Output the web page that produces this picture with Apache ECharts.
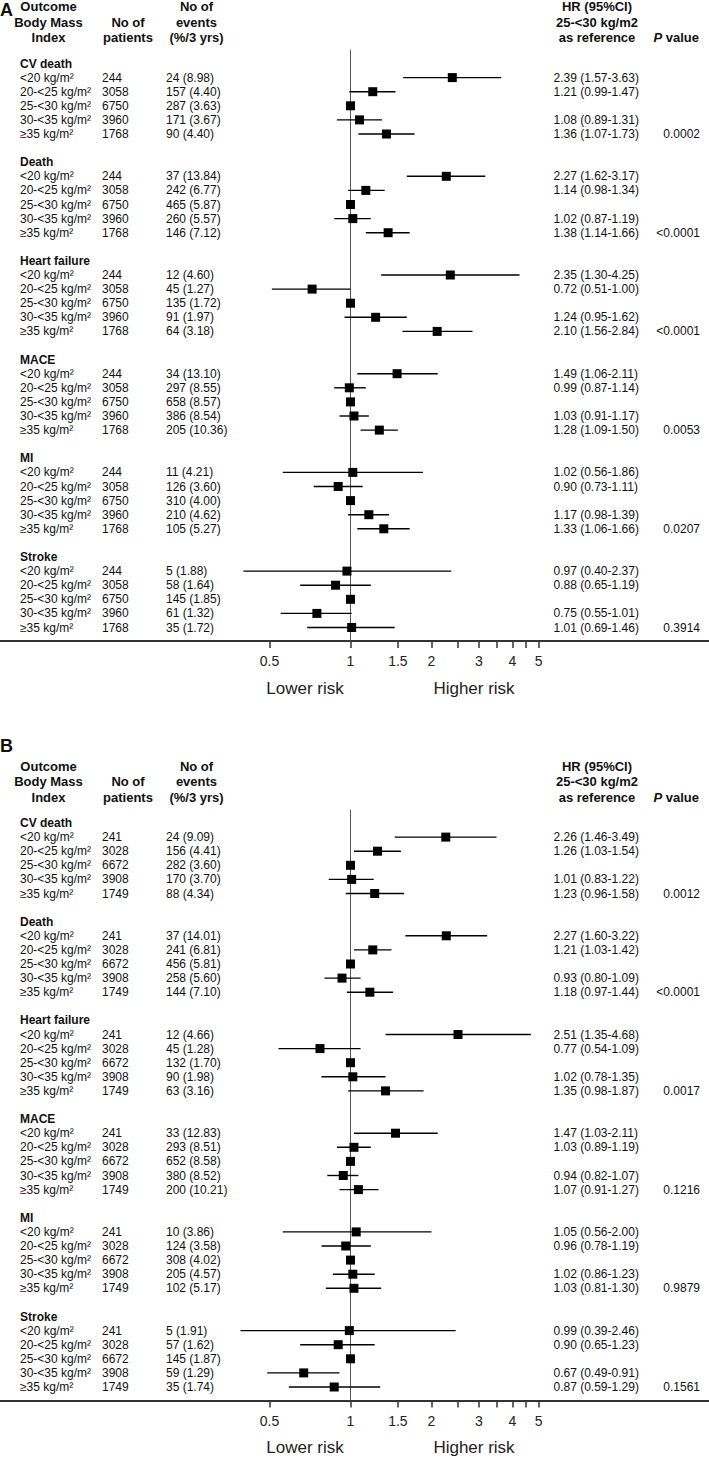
<!DOCTYPE html>
<html><head><meta charset="utf-8">
<script src="https://cdn.jsdelivr.net/npm/echarts@6/dist/echarts.min.js"></script>
<style>html,body{margin:0;padding:0;background:#fff}#c{width:709px;height:1458px}</style>
</head><body><div id="c"></div>
<script>
// ---------- DATA ----------
const outcomes = ['CV death', 'Death', 'Heart failure', 'MACE', 'MI', 'Stroke'];
const bmiCats = ['<20 kg/m²', '20-<25 kg/m²', '25-<30 kg/m²', '30-<35 kg/m²', '≥35 kg/m²'];
const axisTicks = [0.5, 1, 1.5, 2, 2.5, 3, 3.5, 4, 4.5, 5];
const axisLabels = [0.5, 1, 1.5, 2, 3, 4, 5];

// Panel A
const patientsA = [244, 3058, 6750, 3960, 1768];
const eventsA = [
  ['24 (8.98)', '157 (4.40)', '287 (3.63)', '171 (3.67)', '90 (4.40)'],
  ['37 (13.84)', '242 (6.77)', '465 (5.87)', '260 (5.57)', '146 (7.12)'],
  ['12 (4.60)', '45 (1.27)', '135 (1.72)', '91 (1.97)', '64 (3.18)'],
  ['34 (13.10)', '297 (8.55)', '658 (8.57)', '386 (8.54)', '205 (10.36)'],
  ['11 (4.21)', '126 (3.60)', '310 (4.00)', '210 (4.62)', '105 (5.27)'],
  ['5 (1.88)', '58 (1.64)', '145 (1.85)', '61 (1.32)', '35 (1.72)']
];
const hrA = [
  [2.39, 1.21, 1, 1.08, 1.36],
  [2.27, 1.14, 1, 1.02, 1.38],
  [2.35, 0.72, 1, 1.24, 2.10],
  [1.49, 0.99, 1, 1.03, 1.28],
  [1.02, 0.90, 1, 1.17, 1.33],
  [0.97, 0.88, 1, 0.75, 1.01]
];
const loA = [
  [1.57, 0.99, null, 0.89, 1.07],
  [1.62, 0.98, null, 0.87, 1.14],
  [1.30, 0.51, null, 0.95, 1.56],
  [1.06, 0.87, null, 0.91, 1.09],
  [0.56, 0.73, null, 0.98, 1.06],
  [0.40, 0.65, null, 0.55, 0.69]
];
const hiA = [
  [3.63, 1.47, null, 1.31, 1.73],
  [3.17, 1.34, null, 1.19, 1.66],
  [4.25, 1.00, null, 1.62, 2.84],
  [2.11, 1.14, null, 1.17, 1.50],
  [1.86, 1.11, null, 1.39, 1.66],
  [2.37, 1.19, null, 1.01, 1.46]
];
const pA = ['0.0002', '<0.0001', '<0.0001', '0.0053', '0.0207', '0.3914'];

// Panel B
const patientsB = [241, 3028, 6672, 3908, 1749];
const eventsB = [
  ['24 (9.09)', '156 (4.41)', '282 (3.60)', '170 (3.70)', '88 (4.34)'],
  ['37 (14.01)', '241 (6.81)', '456 (5.81)', '258 (5.60)', '144 (7.10)'],
  ['12 (4.66)', '45 (1.28)', '132 (1.70)', '90 (1.98)', '63 (3.16)'],
  ['33 (12.83)', '293 (8.51)', '652 (8.58)', '380 (8.52)', '200 (10.21)'],
  ['10 (3.86)', '124 (3.58)', '308 (4.02)', '205 (4.57)', '102 (5.17)'],
  ['5 (1.91)', '57 (1.62)', '145 (1.87)', '59 (1.29)', '35 (1.74)']
];
const hrB = [
  [2.26, 1.26, 1, 1.01, 1.23],
  [2.27, 1.21, 1, 0.93, 1.18],
  [2.51, 0.77, 1, 1.02, 1.35],
  [1.47, 1.03, 1, 0.94, 1.07],
  [1.05, 0.96, 1, 1.02, 1.03],
  [0.99, 0.90, 1, 0.67, 0.87]
];
const loB = [
  [1.46, 1.03, null, 0.83, 0.96],
  [1.60, 1.03, null, 0.80, 0.97],
  [1.35, 0.54, null, 0.78, 0.98],
  [1.03, 0.89, null, 0.82, 0.91],
  [0.56, 0.78, null, 0.86, 0.81],
  [0.39, 0.65, null, 0.49, 0.59]
];
const hiB = [
  [3.49, 1.54, null, 1.22, 1.58],
  [3.22, 1.42, null, 1.09, 1.44],
  [4.68, 1.09, null, 1.35, 1.87],
  [2.11, 1.19, null, 1.07, 1.27],
  [2.00, 1.19, null, 1.23, 1.30],
  [2.46, 1.23, null, 0.91, 1.29]
];
const pB = ['0.0012', '<0.0001', '0.0017', '0.1216', '0.9879', '0.1561'];

// ---------- LAYOUT ----------
const panels = [
  { letter: 'A', patients: patientsA, events: eventsA, hr: hrA, lo: loA, hi: hiA, p: pA },
  { letter: 'B', patients: patientsB, events: eventsB, hr: hrB, lo: loB, hi: hiB, p: pB }
];
const FONT = '"Liberation Sans", Arial, Helvetica, sans-serif';
const ROW = 14.1;
const PANEL_TOP = [0, 759.5];
const LETTER_Y = [9.7, 745.7];
const GRID_H = 641;
const Y_MIN = -63.5 / ROW;
const Y_MAX = Y_MIN + GRID_H / ROW;
const ONE_X = 350.5, DECADE = 269, W = 709;
const X_MIN = Math.pow(10, -ONE_X / DECADE);
const X_MAX = Math.pow(10, (W - ONE_X) / DECADE);
const STEP = 7;
const slotOf = (g, k) => g * STEP + (k + 1);

const fmt = v => (+v).toFixed(2);

function renderItem(params, api) {
  const hr = api.value(0), lo = api.value(1), hi = api.value(2), s = api.value(3);
  const c = api.coord([hr, s]);
  const children = [];
  if (lo !== hi) {
    const a = api.coord([lo, s]), b = api.coord([hi, s]);
    children.push({ type: 'line', shape: { x1: a[0], y1: a[1], x2: b[0], y2: b[1] },
      style: { stroke: '#000', lineWidth: 1.4 } });
  }
  children.push({ type: 'rect', shape: { x: c[0] - 4.5, y: c[1] - 4.5, width: 9, height: 9 },
    style: { fill: '#000' } });
  return { type: 'group', children };
}

const grids = [], xAxes = [], yAxes = [], series = [];
panels.forEach((pn, i) => {
  grids.push({ left: 0, right: 0, top: PANEL_TOP[i], height: GRID_H, containLabel: false, outerBoundsMode: 'none' });
  xAxes.push({
    gridIndex: i, type: 'log', logBase: 10, min: X_MIN, max: X_MAX, position: 'bottom',
    axisLine: { show: true, onZero: false, lineStyle: { color: '#333', width: 1.8 } },
    axisTick: { show: true, customValues: axisTicks, length: 7, inside: false, lineStyle: { color: '#333', width: 1.5 } },
    axisLabel: { show: true, customValues: axisLabels, margin: 13, fontSize: 14, color: '#222', fontFamily: FONT,
      formatter: v => String(+(+v).toPrecision(3)) },
    splitLine: { show: false }, minorTick: { show: false }
  });
  yAxes.push({ gridIndex: i, type: 'value', inverse: true, min: Y_MIN, max: Y_MAX, show: false });
  const data = [];
  outcomes.forEach((o, g) => {
    bmiCats.forEach((b, k) => {
      const h = pn.hr[g][k];
      const lo = pn.lo[g][k] == null ? h : pn.lo[g][k];
      const hi = pn.hi[g][k] == null ? h : pn.hi[g][k];
      data.push([h, lo, hi, slotOf(g, k)]);
    });
  });
  series.push({
    type: 'line', xAxisIndex: i, yAxisIndex: i, silent: true, symbol: 'none', z: 1,
    data: [[1, -0.95], [1, Y_MAX]], lineStyle: { color: '#555', width: 1 }
  });
  series.push({
    type: 'custom', xAxisIndex: i, yAxisIndex: i, renderItem, z: 3, clip: false,
    encode: { x: [0, 1, 2], y: 3 }, data
  });
});

const chart = echarts.init(document.getElementById('c'), null, { renderer: 'svg' });
chart.setOption({
  animation: false, backgroundColor: '#fff',
  grid: grids, xAxis: xAxes, yAxis: yAxes, series
});

// ---------- TEXT ----------
function txt(text, x, y, size, opts) {
  opts = opts || {};
  const align = opts.align || 'left';
  return {
    type: 'text', silent: true, z: 10,
    style: {
      text, x, y,
      font: (opts.italic ? 'italic ' : '') + (opts.bold ? 'bold ' : '') + size + 'px ' + FONT,
      fill: opts.color || '#111',
      align, textAlign: align, verticalAlign: 'middle', textVerticalAlign: 'middle'
    }
  };
}
const graphics = [];
panels.forEach((pn, i) => {
  const T = PANEL_TOP[i];
  const yPix = s => chart.convertToPixel({ yAxisIndex: i }, s);
  graphics.push(txt(pn.letter, 0, LETTER_Y[i], 18, { bold: true }));
  const H = [6.5, 22, 37.5].map(v => v + T);
  // column headers
  graphics.push(txt('Outcome', 48.5, H[0], 13, { bold: true, align: 'center' }));
  graphics.push(txt('Body Mass', 48.5, H[1], 13, { bold: true, align: 'center' }));
  graphics.push(txt('Index', 48.5, H[2], 13, { bold: true, align: 'center' }));
  graphics.push(txt('No of', 128, H[1], 13, { bold: true, align: 'center' }));
  graphics.push(txt('patients', 128, H[2], 13, { bold: true, align: 'center' }));
  graphics.push(txt('No of', 196.5, H[0], 13, { bold: true, align: 'center' }));
  graphics.push(txt('events', 196.5, H[1], 13, { bold: true, align: 'center' }));
  graphics.push(txt('(%/3 yrs)', 196.5, H[2], 13, { bold: true, align: 'center' }));
  graphics.push(txt('HR (95%CI)', 597, H[0], 13, { bold: true, align: 'center' }));
  graphics.push(txt('25-<30 kg/m2', 597, H[1], 13, { bold: true, align: 'center' }));
  graphics.push(txt('as reference', 597, H[2], 13, { bold: true, align: 'center' }));
  graphics.push(txt('P', 653.5, H[2], 13, { bold: true, italic: true }));
  graphics.push(txt('value', 665.8, H[2], 13, { bold: true }));
  // rows
  outcomes.forEach((o, g) => {
    graphics.push(txt(o, 20, yPix(g * STEP), 12, { bold: true }));
    bmiCats.forEach((b, k) => {
      const y = yPix(slotOf(g, k));
      graphics.push(txt(b, 20, y, 12));
      graphics.push(txt(String(pn.patients[k]), 102, y, 12));
      graphics.push(txt(pn.events[g][k], 166, y, 12));
      if (pn.lo[g][k] != null) {
        graphics.push(txt(fmt(pn.hr[g][k]) + ' (' + fmt(pn.lo[g][k]) + '-' + fmt(pn.hi[g][k]) + ')', 553.5, y, 12));
      }
      if (k === 4) graphics.push(txt(pn.p[g], 700, y, 12, { align: 'right' }));
    });
  });
  graphics.push(txt('Lower risk', 305, T + 688, 17, { align: 'center', color: '#222' }));
  graphics.push(txt('Higher risk', 474, T + 688, 17, { align: 'center', color: '#222' }));
});
chart.setOption({ graphic: graphics });
</script>
</body></html>
